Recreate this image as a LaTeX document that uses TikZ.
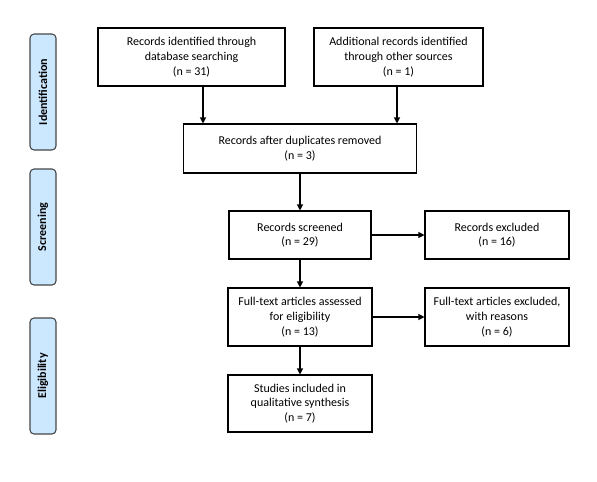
\documentclass[tikz,border=0pt]{standalone}
\usepackage{fontspec}
\setmainfont{Carlito}
\usetikzlibrary{arrows.meta}
\definecolor{tabblue}{RGB}{204,232,255}
\definecolor{tabline}{RGB}{70,70,70}
\tikzset{
  box/.style={draw=black, line width=0.8pt, align=center, inner sep=1pt,
    font=\fontsize{9pt}{11pt}\selectfont},
  tab/.style={draw=tabline, fill=tabblue, line width=0.8pt, rounded corners=3pt,
    minimum width={26*0.75pt}, minimum height={116*0.75pt}, inner sep=0pt},
  tabtext/.style={rotate=90, font=\fontsize{9pt}{11pt}\selectfont\bfseries},
  arr/.style={line width=0.8pt, -{Triangle[length=4.5pt,width=4.5pt]}}
}
\begin{document}
\begin{tikzpicture}[x=0.75pt, y=-0.75pt]
\useasboundingbox (0,0) rectangle (597,482);
% side tabs
\node[tab] (t1) at (43,92) {};
\node[tabtext] (t1l) at (t1.center) {Identification};
\node[tab] (t2) at (43,227) {};
\node[tabtext] (t2l) at (t2.center) {Screening};
\node[tab] (t3) at (43,376) {};
\node[tabtext] (t3l) at (t3.center) {Eligibility};
% boxes
\node[box, minimum width={187*0.75pt}, minimum height={58*0.75pt}] (b1) at (191.5,57)
  {Records identified through\\database searching\\(n = 31)};
\node[box, minimum width={169*0.75pt}, minimum height={58*0.75pt}] (b2) at (398.5,57)
  {Additional records identified\\through other sources\\(n = 1)};
\node[box, minimum width={233*0.75pt}, minimum height={49*0.75pt}] (b3) at (300,148.5)
  {Records after duplicates removed\\(n = 3)};
\node[box, minimum width={142*0.75pt}, minimum height={48*0.75pt}] (s) at (300,235)
  {Records screened\\(n = 29)};
\node[box, minimum width={144*0.75pt}, minimum height={48*0.75pt}] (e1) at (497,235)
  {Records excluded\\(n = 16)};
\node[box, minimum width={144*0.75pt}, minimum height={58*0.75pt}] (f) at (300,317)
  {Full-text articles assessed\\for eligibility\\(n = 13)};
\node[box, minimum width={144*0.75pt}, minimum height={58*0.75pt}] (e2) at (497,317)
  {Full-text articles excluded,\\with reasons\\(n = 6)};
\node[box, minimum width={144*0.75pt}, minimum height={57*0.75pt}] (st) at (300,403.5)
  {Studies included in\\qualitative synthesis\\(n = 7)};
% connectors
\coordinate (c1) at (203,0);
\coordinate (c2) at (397,0);
\draw[arr] (b1.south -| c1) -- (b3.north -| c1);
\draw[arr] (b2.south -| c2) -- (b3.north -| c2);
\draw[arr] (b3.south) -- (s.north);
\draw[arr] (s.east) -- (e1.west);
\draw[arr] (s.south) -- (f.north);
\draw[arr] (f.east) -- (e2.west);
\draw[arr] (f.south) -- (st.north);
\end{tikzpicture}
\end{document}
